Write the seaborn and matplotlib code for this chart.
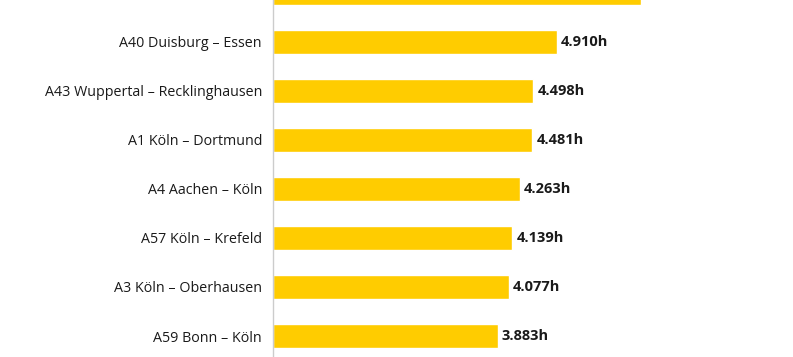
import pandas as pd
import seaborn as sns
import matplotlib.pyplot as plt

# Staustunden je Strecke (oberste Strecke im Ausschnitt abgeschnitten)
strecken = ['A46 Düsseldorf – Wuppertal', 'A40 Duisburg – Essen',
            'A43 Wuppertal – Recklinghausen', 'A1 Köln – Dortmund',
            'A4 Aachen – Köln', 'A57 Köln – Krefeld',
            'A3 Köln – Oberhausen', 'A59 Bonn – Köln']
stunden = [6.362, 4.910, 4.498, 4.481, 4.263, 4.139, 4.077, 3.883]
labels = ['6.362h', '4.910h', '4.498h', '4.481h', '4.263h', '4.139h',
          '4.077h', '3.883h']

df = pd.DataFrame({'strecke': strecken, 'stunden': stunden})

sns.set_theme(style='white')
plt.rcParams['font.family'] = ['Open Sans', 'DejaVu Sans']

fig = plt.figure(figsize=(7.93, 3.57), dpi=100)
ax = fig.add_axes([273 / 793, 0, 520 / 793, 1])
sns.barplot(data=df, x='stunden', y='strecke', color='#FFCC00',
            saturation=1, width=0.47, ax=ax)

for i, (v, t) in enumerate(zip(stunden, labels)):
    ax.annotate(t, (v, i), xytext=(3, 0), textcoords='offset points',
                va='center', ha='left', fontsize=10.5, fontweight='bold',
                color='#1a1a1a')

ax.set_xlim(0, 520 / 57.84)
ax.set_ylim(7 + 21 / 49, 7 / 49)
ax.set_xlabel('')
ax.set_ylabel('')
ax.set_xticks([])
ax.tick_params(axis='y', length=0, pad=8, labelsize=10.3, labelcolor='#1a1a1a')
for s in ['top', 'right', 'bottom']:
    ax.spines[s].set_visible(False)
ax.spines['left'].set_color('#cccccc')
ax.spines['left'].set_linewidth(1)

fig.savefig('out.png', dpi=100)
